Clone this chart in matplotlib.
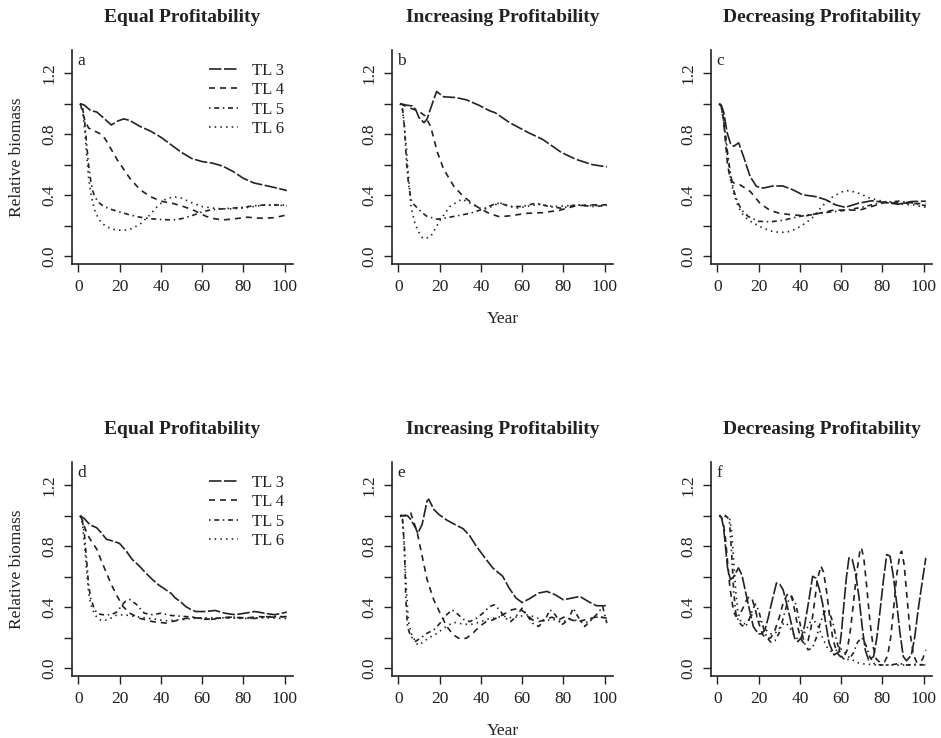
import matplotlib
matplotlib.use("Agg")
import matplotlib.pyplot as plt

plt.rcParams['font.family'] = ['Liberation Serif', 'DejaVu Serif']
INK = "#222222"

# ---- panel a : equal profitability (top)
A3_X = [1, 3, 6, 9, 12, 16, 19, 22, 25, 30, 35, 40, 45, 50, 55, 60, 65, 70, 75, 80, 85, 90, 95, 101]
A3_Y = [1.0, 0.99, 0.955, 0.945, 0.91, 0.86, 0.885, 0.9, 0.89, 0.85, 0.82, 0.78, 0.73, 0.68, 0.64, 0.62, 0.61, 0.59, 0.555, 0.51, 0.48, 0.465, 0.45, 0.43]
A4_X = [1, 3, 5, 8, 11, 13, 16, 19, 22, 25, 30, 35, 40, 46, 51, 56, 62, 66, 70, 76, 82, 86, 90, 95, 101]
A4_Y = [1.0, 0.9, 0.84, 0.82, 0.8, 0.77, 0.7, 0.63, 0.57, 0.51, 0.435, 0.39, 0.36, 0.345, 0.325, 0.3, 0.26, 0.245, 0.237, 0.245, 0.255, 0.25, 0.248, 0.252, 0.27]
A5_X = [1, 2, 3, 4, 5, 6, 7, 8, 10, 12, 15, 20, 25, 30, 35, 40, 46, 50, 55, 60, 65, 70, 75, 80, 85, 90, 95, 101]
A5_Y = [1.0, 0.98, 0.9, 0.75, 0.6, 0.5, 0.43, 0.39, 0.35, 0.33, 0.31, 0.29, 0.27, 0.255, 0.245, 0.24, 0.237, 0.245, 0.265, 0.29, 0.305, 0.31, 0.315, 0.32, 0.33, 0.335, 0.335, 0.335]
A6_X = [1, 2, 3, 4, 5, 6, 7, 8, 10, 12, 15, 18, 22, 26, 30, 34, 38, 42, 46, 50, 55, 60, 65, 70, 75, 80, 85, 90, 95, 101]
A6_Y = [1.0, 0.97, 0.85, 0.68, 0.52, 0.42, 0.35, 0.3, 0.24, 0.21, 0.185, 0.172, 0.168, 0.18, 0.21, 0.26, 0.32, 0.37, 0.39, 0.38, 0.35, 0.325, 0.315, 0.31, 0.31, 0.315, 0.325, 0.335, 0.335, 0.33]

# ---- panel b : increasing profitability (top)
B3_X = [1, 4, 7, 8.5, 10, 12.5, 14, 16, 18.6, 20, 22, 28, 33, 39, 44, 47, 54, 63, 70, 79, 86, 94, 101]
B3_Y = [1.0, 0.99, 0.985, 0.96, 0.91, 0.875, 0.9, 0.98, 1.08, 1.065, 1.045, 1.04, 1.025, 0.99, 0.955, 0.94, 0.875, 0.81, 0.765, 0.68, 0.635, 0.6, 0.585]
B4_X = [1, 4, 8, 11, 13, 15.7, 19, 22, 27, 31.6, 38, 44, 49, 54, 62, 70, 78, 86, 94, 101]
B4_Y = [1.0, 0.98, 0.96, 0.94, 0.92, 0.85, 0.68, 0.57, 0.457, 0.39, 0.325, 0.28, 0.258, 0.264, 0.28, 0.285, 0.3, 0.33, 0.336, 0.336]
B5_X = [1, 2, 3, 4, 5, 6.2, 7.5, 9.4, 12, 14, 19, 22, 28.5, 35, 41, 47.5, 51, 54, 60, 66.6, 73, 79, 86, 94, 101]
B5_Y = [1.0, 0.98, 0.85, 0.62, 0.47, 0.37, 0.34, 0.314, 0.28, 0.26, 0.242, 0.248, 0.264, 0.281, 0.308, 0.347, 0.34, 0.325, 0.325, 0.347, 0.325, 0.314, 0.336, 0.325, 0.332]
B6_X = [1, 2, 3, 4, 4.6, 6.2, 8, 9.4, 11.8, 14, 15.7, 18, 20.5, 25, 30.8, 34.8, 39.6, 43, 46, 49, 53, 58, 64, 68, 75, 82, 88, 95, 101]
B6_Y = [1.0, 0.96, 0.85, 0.7, 0.59, 0.325, 0.22, 0.17, 0.117, 0.12, 0.128, 0.18, 0.24, 0.325, 0.374, 0.347, 0.314, 0.31, 0.33, 0.35, 0.33, 0.315, 0.33, 0.34, 0.325, 0.33, 0.335, 0.33, 0.335]

# ---- panel c : decreasing profitability (top)
C3_X = [1, 2, 3.2, 4.8, 6.4, 8, 10.4, 12.7, 15.9, 19, 22.3, 27, 31.8, 36.6, 41.4, 47.8, 52.5, 57.3, 62, 68.5, 74.8, 81, 87.6, 94, 101]
C3_Y = [1.0, 0.99, 0.94, 0.81, 0.74, 0.72, 0.743, 0.655, 0.523, 0.457, 0.446, 0.46, 0.46, 0.435, 0.402, 0.39, 0.37, 0.336, 0.32, 0.347, 0.363, 0.352, 0.34, 0.358, 0.36]
C4_X = [1, 2, 3, 4, 5, 6.4, 8, 11, 16, 20.7, 25.5, 30.3, 36.6, 43, 49.4, 55.7, 62, 68.5, 74.8, 81, 90.8, 101]
C4_Y = [1.0, 0.98, 0.9, 0.75, 0.6, 0.5, 0.48, 0.468, 0.424, 0.347, 0.3, 0.28, 0.27, 0.264, 0.281, 0.3, 0.303, 0.3, 0.325, 0.352, 0.347, 0.343]
C5_X = [1, 2, 3, 4, 5, 6, 7, 8, 10, 12, 15, 20, 26, 32, 38, 44, 50, 55, 62, 70, 76, 82, 88, 94, 101]
C5_Y = [1.0, 0.98, 0.9, 0.8, 0.68, 0.58, 0.5, 0.43, 0.35, 0.3, 0.26, 0.228, 0.225, 0.235, 0.255, 0.27, 0.28, 0.29, 0.3, 0.32, 0.34, 0.355, 0.36, 0.35, 0.33]
C6_X = [1, 2, 3, 4, 5, 6, 7, 8, 10, 12, 14, 17, 22, 26, 30, 33, 36, 41, 46, 51, 56, 61, 64, 69, 74, 80, 85, 90, 95, 101]
C6_Y = [1.0, 0.98, 0.9, 0.78, 0.65, 0.55, 0.47, 0.41, 0.33, 0.28, 0.25, 0.22, 0.185, 0.165, 0.155, 0.156, 0.165, 0.2, 0.25, 0.33, 0.39, 0.425, 0.43, 0.41, 0.38, 0.36, 0.35, 0.34, 0.335, 0.32]

# ---- panel d : equal profitability (bottom)
D3_X = [1, 3, 5.7, 9, 11, 13.7, 16.9, 20, 23.3, 26, 29.7, 33, 36, 39, 42.4, 45, 47, 50, 52, 54.5, 56.8, 61.6, 66.3, 71, 76, 80.7, 85.5, 90.3, 95, 101]
D3_Y = [1.0, 0.98, 0.94, 0.92, 0.89, 0.845, 0.833, 0.818, 0.767, 0.715, 0.668, 0.62, 0.58, 0.545, 0.514, 0.49, 0.46, 0.43, 0.404, 0.385, 0.371, 0.371, 0.378, 0.36, 0.35, 0.36, 0.371, 0.36, 0.35, 0.367]
D4_X = [1, 2, 4, 6, 9, 11, 13.7, 16, 18.5, 21.7, 25, 29.7, 36, 42.4, 48.8, 55, 61.6, 68, 74.3, 80.7, 87, 93.5, 101]
D4_Y = [1.0, 0.97, 0.89, 0.84, 0.78, 0.71, 0.624, 0.55, 0.48, 0.404, 0.36, 0.327, 0.305, 0.295, 0.316, 0.334, 0.32, 0.327, 0.334, 0.327, 0.338, 0.334, 0.338]
D5_X = [1, 2, 3, 4, 5, 6, 8, 10, 12, 16, 19, 21, 23, 25, 28, 32, 36, 40, 45, 50, 55, 60, 65, 70, 75, 80, 85, 90, 95, 101]
D5_Y = [1.0, 0.97, 0.88, 0.72, 0.55, 0.46, 0.38, 0.355, 0.35, 0.35, 0.37, 0.41, 0.44, 0.45, 0.42, 0.36, 0.35, 0.36, 0.345, 0.34, 0.335, 0.325, 0.32, 0.33, 0.335, 0.33, 0.325, 0.335, 0.34, 0.335]
D6_X = [1, 2, 3, 4, 5, 6, 8, 10, 12, 15, 18, 22, 27, 32, 38, 42, 48, 55, 60, 70, 80, 90, 101]
D6_Y = [1.0, 0.95, 0.82, 0.65, 0.5, 0.42, 0.35, 0.32, 0.31, 0.32, 0.345, 0.35, 0.34, 0.33, 0.32, 0.31, 0.315, 0.325, 0.33, 0.33, 0.325, 0.33, 0.325]

# ---- panel e : increasing profitability (bottom)
E3_X = [1, 4.5, 6, 8.4, 9.5, 11.6, 14, 14.8, 17.2, 19.6, 23.5, 28.3, 31.5, 34.7, 37.8, 42.6, 45.8, 50.6, 53.7, 57, 60, 63.3, 68, 72, 76, 80, 84, 88, 92, 96, 101]
E3_Y = [1.0, 1.0, 0.976, 0.92, 0.884, 0.943, 1.097, 1.108, 1.042, 1.009, 0.971, 0.936, 0.914, 0.866, 0.8, 0.712, 0.657, 0.602, 0.525, 0.46, 0.43, 0.453, 0.492, 0.503, 0.481, 0.448, 0.459, 0.47, 0.437, 0.409, 0.409]
E4_X = [1, 3, 6, 9.2, 11.6, 14, 17.2, 20.3, 23.5, 26.7, 30, 33, 36.2, 39.4, 42.6, 45.8, 49, 52, 55, 58.5, 61.7, 65, 68, 71, 74.4, 77.6, 80.8, 84, 87, 90.3, 93.5, 96.7, 101]
E4_Y = [1.0, 1.0, 1.02, 0.89, 0.734, 0.58, 0.448, 0.36, 0.273, 0.218, 0.19, 0.196, 0.229, 0.273, 0.305, 0.316, 0.338, 0.36, 0.382, 0.393, 0.36, 0.316, 0.305, 0.316, 0.334, 0.316, 0.338, 0.316, 0.305, 0.316, 0.327, 0.338, 0.327]
E5_X = [1, 2, 3, 3.7, 4.5, 6, 8.4, 10.8, 14, 17.2, 20.3, 23.5, 26, 28.3, 31.5, 34.7, 37.8, 41, 44.2, 46.6, 49, 52, 54.5, 57, 60, 61.7, 65, 68, 71, 73.6, 76, 79.2, 82.4, 84.7, 87, 90.3, 93.5, 96.7, 99, 101]
E5_Y = [1.0, 1.0, 0.8, 0.45, 0.27, 0.21, 0.175, 0.196, 0.229, 0.25, 0.295, 0.35, 0.382, 0.36, 0.32, 0.305, 0.327, 0.36, 0.404, 0.415, 0.382, 0.327, 0.305, 0.338, 0.393, 0.36, 0.295, 0.273, 0.316, 0.382, 0.35, 0.284, 0.316, 0.393, 0.338, 0.273, 0.316, 0.36, 0.404, 0.295]
E6_X = [1, 2, 3, 4, 5, 6.5, 9, 10, 12, 15, 18, 21, 24, 27, 31, 35, 39, 43, 47, 51, 55, 59, 63, 67, 71, 75, 79, 83, 87, 91, 95, 98, 101]
E6_Y = [1.0, 0.98, 0.78, 0.5, 0.3, 0.22, 0.16, 0.15, 0.17, 0.2, 0.22, 0.25, 0.28, 0.3, 0.29, 0.285, 0.3, 0.32, 0.33, 0.34, 0.33, 0.34, 0.35, 0.33, 0.31, 0.32, 0.3, 0.32, 0.31, 0.3, 0.33, 0.34, 0.31]

# ---- panel f : decreasing profitability (bottom)
F3_X = [1, 2, 3, 4, 5, 6.4, 8, 10.3, 12, 13.5, 15.5, 17.5, 19.9, 21.5, 23.1, 24.7, 26.3, 28.7, 30.3, 31.9, 33.5, 35.1, 37.5, 39.1, 40.7, 42.2, 44.2, 46.2, 47.8, 49.4, 51, 52.6, 54.2, 56.6, 59, 60.2, 61.4, 62.6, 63.8, 65.4, 67, 68.6, 70.2, 71.7, 73.3, 75.7, 77.3, 78.9, 80.5, 82.1, 83.7, 85.3, 86.9, 88.5, 90.1, 91.7, 94, 95.6, 97.3, 99.2, 101]
F3_Y = [1.0, 0.99, 0.93, 0.8, 0.66, 0.58, 0.6, 0.657, 0.61, 0.514, 0.39, 0.272, 0.224, 0.225, 0.25, 0.33, 0.426, 0.558, 0.55, 0.514, 0.43, 0.338, 0.196, 0.174, 0.2, 0.272, 0.43, 0.602, 0.59, 0.52, 0.426, 0.29, 0.163, 0.086, 0.108, 0.24, 0.426, 0.6, 0.723, 0.712, 0.62, 0.47, 0.27, 0.119, 0.053, 0.075, 0.2, 0.382, 0.58, 0.745, 0.734, 0.6, 0.426, 0.23, 0.075, 0.048, 0.086, 0.2, 0.382, 0.56, 0.723]
F4_X = [1, 2, 3, 4, 5, 6, 7, 8, 9, 10.5, 12, 14, 15.5, 17, 18.5, 20, 22, 24, 26, 28, 30, 32, 34.3, 36, 37.5, 39, 40.5, 42.2, 44, 45.5, 47, 48.5, 50.2, 51.5, 53, 54.5, 56, 58, 60, 61.4, 63, 64.5, 66, 67.5, 69, 69.8, 71, 72.5, 74, 75.5, 77, 79, 81, 82.5, 84, 85.5, 87, 88.5, 89.3, 90.5, 92, 93.5, 95, 96.5, 98, 99.5, 101]
F4_Y = [1.0, 0.99, 0.95, 0.85, 0.7, 0.55, 0.45, 0.37, 0.34, 0.35, 0.38, 0.44, 0.47, 0.45, 0.38, 0.3, 0.22, 0.19, 0.2, 0.25, 0.33, 0.43, 0.493, 0.47, 0.38, 0.27, 0.19, 0.16, 0.18, 0.27, 0.42, 0.58, 0.67, 0.63, 0.5, 0.33, 0.19, 0.1, 0.07, 0.075, 0.12, 0.25, 0.43, 0.62, 0.76, 0.79, 0.72, 0.52, 0.3, 0.14, 0.06, 0.035, 0.04, 0.08, 0.2, 0.4, 0.62, 0.75, 0.767, 0.68, 0.45, 0.22, 0.09, 0.04, 0.035, 0.06, 0.12]
F5_X = [1, 3, 5, 6, 7, 8, 9, 10.5, 12, 13.5, 15, 17, 18.5, 20, 22, 24, 26, 28, 30, 32, 34, 36, 38, 40, 42, 44, 46, 48, 50, 52, 54, 56, 58, 60, 62, 64, 66, 68, 70, 72, 74, 76, 79, 84, 88, 92, 96, 101]
F5_Y = [1.0, 1.0, 0.99, 0.95, 0.75, 0.5, 0.36, 0.3, 0.28, 0.27, 0.3, 0.38, 0.42, 0.38, 0.28, 0.2, 0.17, 0.18, 0.23, 0.33, 0.43, 0.47, 0.42, 0.3, 0.17, 0.12, 0.13, 0.2, 0.3, 0.37, 0.38, 0.3, 0.17, 0.08, 0.05, 0.06, 0.1, 0.17, 0.2, 0.15, 0.07, 0.03, 0.02, 0.02, 0.03, 0.02, 0.025, 0.02]
F6_X = [1, 4, 6, 7, 8, 9, 10, 11.5, 13, 15, 17, 19, 21, 23, 25, 27, 29, 31, 33, 35, 37, 39, 41, 43, 45, 47, 49, 51, 53, 55, 57, 59, 61, 63, 66, 69, 73, 78, 84, 90, 96, 101]
F6_Y = [1.0, 1.0, 0.98, 0.9, 0.7, 0.5, 0.37, 0.3, 0.29, 0.31, 0.35, 0.34, 0.3, 0.26, 0.23, 0.22, 0.24, 0.28, 0.3, 0.27, 0.22, 0.19, 0.2, 0.25, 0.3, 0.31, 0.27, 0.2, 0.14, 0.11, 0.11, 0.13, 0.12, 0.08, 0.05, 0.03, 0.025, 0.02, 0.02, 0.02, 0.02, 0.02]

LABELS = ["TL 3", "TL 4", "TL 5", "TL 6"]
TITLES = ["Equal Profitability", "Increasing Profitability", "Decreasing Profitability"]
LETTERS = ["a", "b", "c", "d", "e", "f"]

# line styles per trophic level (on/off, in linewidths)
LW = 1.2
DASHES = [(7.5, 1.5), (3.6, 3.0), (0.9, 2.2, 3.0, 2.2), (0.9, 2.5)]

panels = [
    [(A3_X, A3_Y), (A4_X, A4_Y), (A5_X, A5_Y), (A6_X, A6_Y)],
    [(B3_X, B3_Y), (B4_X, B4_Y), (B5_X, B5_Y), (B6_X, B6_Y)],
    [(C3_X, C3_Y), (C4_X, C4_Y), (C5_X, C5_Y), (C6_X, C6_Y)],
    [(D3_X, D3_Y), (D4_X, D4_Y), (D5_X, D5_Y), (D6_X, D6_Y)],
    [(E3_X, E3_Y), (E4_X, E4_Y), (E5_X, E5_Y), (E6_X, E6_Y)],
    [(F3_X, F3_Y), (F4_X, F4_Y), (F5_X, F5_Y), (F6_X, F6_Y)],
]

W, H = 941, 738
fig = plt.figure(figsize=(W / 100, H / 100), dpi=100)

col_left = [72, 392, 711]
ax_w = 221
row_top = [50, 462]
ax_h = 214

for i, series in enumerate(panels):
    r, c = divmod(i, 3)
    l, t = col_left[c], row_top[r]
    ax = fig.add_axes([l / W, 1 - (t + ax_h) / H, ax_w / W, ax_h / H])
    lines = []
    for (xs, ys), d, lab in zip(series, DASHES, LABELS):
        ln, = ax.plot(xs, ys, color=INK, lw=LW, dashes=d, label=lab)
        lines.append(ln)
    ax.set_xlim(-3, 104)
    ax.set_ylim(-0.052, 1.352)
    ax.set_xticks([0, 20, 40, 60, 80, 100])
    ax.set_yticks([0, 0.2, 0.4, 0.6, 0.8, 1.0, 1.2])
    ax.set_yticklabels(["0.0", "", "0.4", "", "0.8", "", "1.2"])
    for s in ["top", "right"]:
        ax.spines[s].set_visible(False)
    for s in ["left", "bottom"]:
        ax.spines[s].set_linewidth(1.2)
        ax.spines[s].set_color(INK)
    ax.tick_params(direction="out", length=5.5, width=1.0, colors=INK, labelsize=12.5, pad=5)
    ax.tick_params(axis="y", labelrotation=90)
    for lb in ax.get_yticklabels():
        lb.set_va("center")
    ax.text(0.025, 0.985, LETTERS[i], transform=ax.transAxes, ha="left", va="top",
            fontsize=12.5, color=INK)
    cx = (l + ax_w / 2) / W
    fig.text(cx, 1 - (t - 32) / H, TITLES[c], ha="center", va="center",
             fontsize=14, fontweight="bold", color=INK)
    if c == 0:
        fig.text(17 / W, 1 - (t + ax_h / 2) / H, "Relative biomass", rotation=90,
                 ha="center", va="center", fontsize=12.5, color=INK)
        leg = ax.legend(handles=lines, loc="upper left", bbox_to_anchor=(0.62, 0.94),
                        frameon=False, borderpad=0, borderaxespad=0, handlelength=1.75,
                        handletextpad=0.8, labelspacing=0.2, fontsize=12)
        for tx in leg.get_texts():
            tx.set_color(INK)
    if c == 1:
        fig.text(cx, 1 - (t + ax_h + 55) / H, "Year", ha="center", va="center",
                 fontsize=12.5, color=INK)

fig.savefig("out.png", dpi=100)
